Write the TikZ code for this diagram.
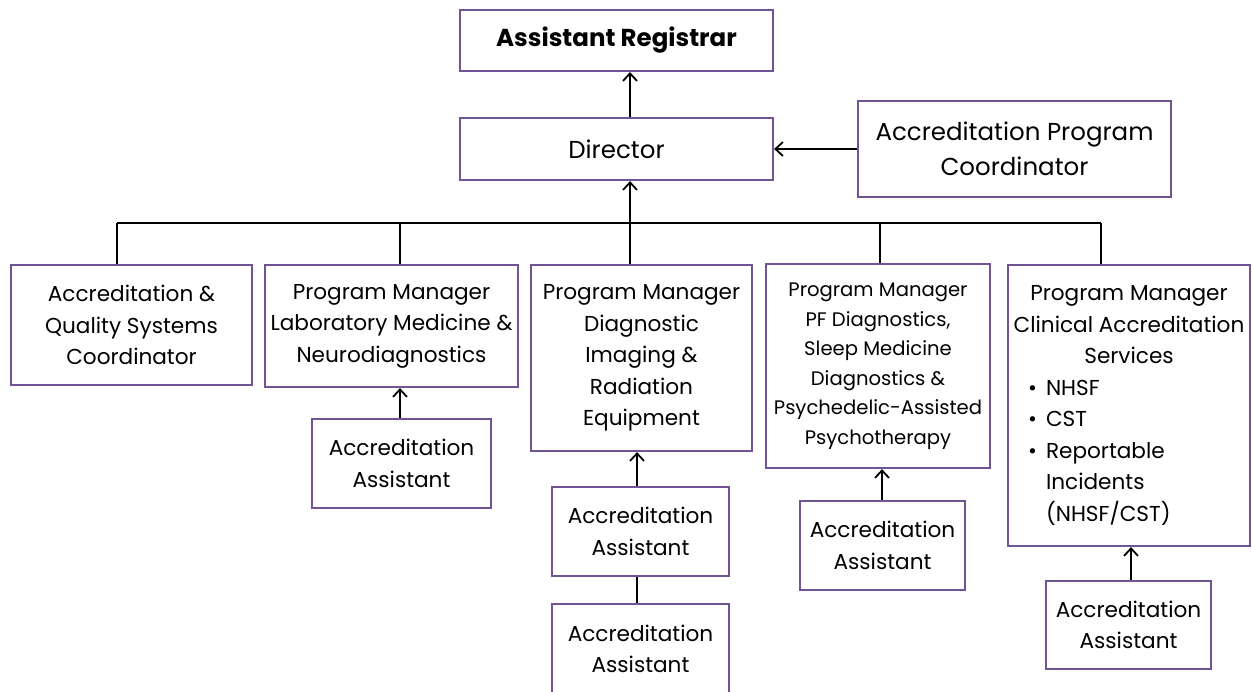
\documentclass[tikz,border=0pt]{standalone}
\usepackage{fontspec}
\setmainfont{Poppins}
\usetikzlibrary{arrows.meta}
\definecolor{boxpurple}{RGB}{112,84,148}
\newcommand{\mainsz}{\fontsize{21.6}{31.5}\selectfont}
\newcommand{\topsz}{\fontsize{24.5}{35}\selectfont}
\newcommand{\smallsz}{\fontsize{19.6}{29.5}\selectfont}
\newcommand{\bul}{\leavevmode\llap{\textbullet\hspace{9pt}}}
\tikzset{
  box/.style={draw=boxpurple, line width=2.2pt, fill=white, align=center, inner sep=0pt, font=\mainsz},
  conn/.style={line width=2.2pt, black},
  arr/.style={conn, -{Straight Barb[length=7.5pt,width=14pt,line width=1.8pt]}}
}
\begin{document}
\begin{tikzpicture}[x=1pt,y=-1pt]
\useasboundingbox (0,0) rectangle (1252,692);
% top
\node[box, minimum width=313, minimum height=61, font=\topsz\bfseries] (reg) at (616.5,40.5) {Assistant Registrar};
\node[box, minimum width=313, minimum height=62, font=\topsz] (dir) at (616.5,149) {Director};
\node[box, minimum width=313, minimum height=96, font=\topsz] (apc) at (1014.5,149) {Accreditation Program\\Coordinator};
% second row
\node[box, minimum width=241, minimum height=120] (b1) at (131.5,325) {Accreditation \&\\Quality Systems\\Coordinator};
\node[box, minimum width=253, minimum height=122] (b2) at (391.5,326) {Program Manager\\Laboratory Medicine \&\\Neurodiagnostics};
\node[box, minimum width=221, minimum height=186] (b3) at (641.5,358) {Program Manager\\Diagnostic\\Imaging \&\\Radiation\\Equipment};
\node[box, minimum width=224, minimum height=204, font=\smallsz] (b4) at (878,366) {Program Manager\\PF Diagnostics,\\Sleep Medicine\\Diagnostics \&\\Psychedelic-Assisted\\Psychotherapy};
\node[box, minimum width=242, minimum height=281] (b5) at (1129,405.5) {\begin{minipage}{236pt}\mainsz\centering Program Manager\\Clinical Accreditation\\Services\par\raggedright\leftskip=35pt\parindent=0pt
\bul NHSF\par
\bul CST\par
\bul Reportable\\Incidents\\(NHSF/CST)\par\end{minipage}};
% assistants
\node[box, minimum width=179, minimum height=89] (a2) at (401.5,463.5) {Accreditation\\Assistant};
\node[box, minimum width=177, minimum height=89] (a3a) at (640.5,531.5) {Accreditation\\Assistant};
\node[box, minimum width=177, minimum height=90] (a3b) at (640.5,649) {Accreditation\\Assistant};
\node[box, minimum width=165, minimum height=89] (a4) at (882.5,545.5) {Accreditation\\Assistant};
\node[box, minimum width=165, minimum height=88] (a5) at (1128.5,625) {Accreditation\\Assistant};
% helper coordinates
\coordinate (spine) at (630,0);
\coordinate (busL) at (117,223);
\coordinate (busR) at (1101,223);
\coordinate (x2) at (400,0);
\coordinate (x3) at (637,0);
\coordinate (x4) at (880,0);
\coordinate (x4a) at (882,0);
\coordinate (x5) at (1131,0);
% connectors
\draw[arr] (dir.north -| spine) -- (reg.south -| spine);
\draw[arr] (apc.west) -- (dir.east);
\draw[arr] (b3.north -| spine) -- (dir.south -| spine);
\draw[conn] (busL) -- (busR);
\draw[conn] (busL) -- (busL |- b1.north);
\draw[conn] (busL -| x2) -- (b2.north -| x2);
\draw[conn] (busL -| x4) -- (b4.north -| x4);
\draw[conn] (busR) -- (busR |- b5.north);
\draw[arr] (a2.north -| x2) -- (b2.south -| x2);
\draw[arr] (a3a.north -| x3) -- (b3.south -| x3);
\draw[conn] (a3b.north -| x3) -- (a3a.south -| x3);
\draw[arr] (a4.north -| x4a) -- (b4.south -| x4a);
\draw[arr] (a5.north -| x5) -- (b5.south -| x5);
\end{tikzpicture}
\end{document}
